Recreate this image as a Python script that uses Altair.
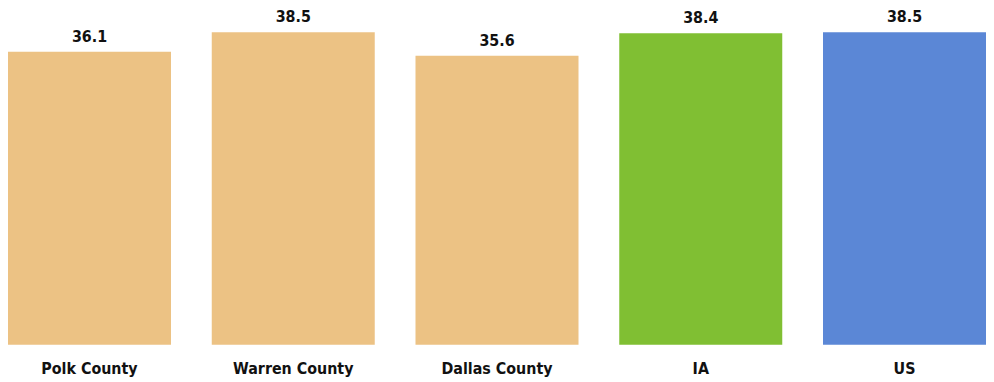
import altair as alt
import pandas as pd

categories = ["Polk County", "Warren County", "Dallas County", "IA", "US"]
values = [36.1, 38.5, 35.6, 38.4, 38.5]
colors = ["#ECC284", "#ECC284", "#ECC284", "#80BF33", "#5B87D6"]

df = pd.DataFrame({"cat": categories, "val": values, "col": colors})

FONT = "Liberation Sans Narrow, Arial Narrow, DejaVu Sans Condensed, sans-serif"

x = alt.X("cat:N", sort=categories, title=None,
          scale=alt.Scale(paddingInner=0.2, paddingOuter=0),
          axis=alt.Axis(domain=False, ticks=False, labelAngle=0, labelFont=FONT,
                        labelFontSize=16, labelFontWeight="bold", labelColor="#111111",
                        labelPadding=16, grid=False))
y = alt.Y("val:Q", title=None, scale=alt.Scale(domain=[0, 40.58], nice=False, zero=True),
          axis=None)

bars = alt.Chart(df).mark_bar().encode(x=x, y=y, color=alt.Color("col:N", scale=None))
labels = alt.Chart(df).mark_text(font=FONT, fontSize=16, fontWeight="bold", color="#111111",
                                 baseline="alphabetic", dy=-10).encode(
    x=alt.X("cat:N", sort=categories), y="val:Q", text=alt.Text("val:Q", format=".1f"))

chart = (bars + labels).properties(
    width=986, height=332,
    autosize=alt.AutoSizeParams(type="none"),
    padding={"left": 0, "top": 6, "right": 0, "bottom": 33},
).configure(background="white", view=alt.ViewConfig(strokeWidth=0, stroke="transparent"))

chart.save("out.html", embed_options={"renderer": "svg", "actions": False})
